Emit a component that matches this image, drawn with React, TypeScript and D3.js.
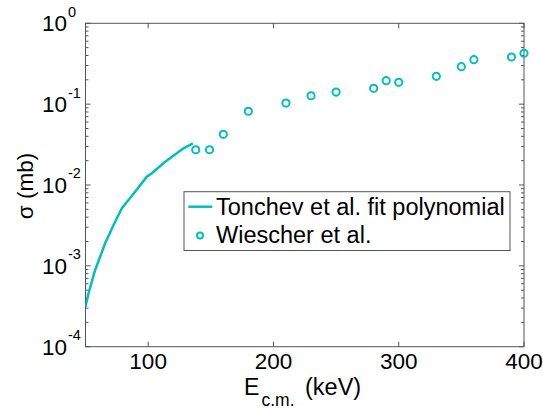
import React from "react";
import * as d3 from "d3";

const fitEnergy = [50, 52.4, 57.7, 65.7, 72.4, 79.0, 89.6, 99.0, 103, 113.6, 128.3, 135.7];
const fitSigma = [3.13e-4, 4.57e-4, 8.9e-4, 1.9e-3, 3.2e-3, 5.15e-3, 8.26e-3, 1.27e-2, 1.4e-2, 1.94e-2, 2.84e-2, 3.28e-2];

const wieEnergy = [138, 149, 160, 180, 210, 230, 250, 280, 290, 300, 330, 350, 360, 390, 400];
const wieSigma = [0.0273, 0.0273, 0.0424, 0.0817, 0.103, 0.127, 0.141, 0.157, 0.195, 0.186, 0.221, 0.291, 0.355, 0.383, 0.426];

const xTicks = [100, 200, 300, 400];
const yDecades = [-4, -3, -2, -1, 0];
const legendLabels = ["Tonchev et al. fit polynomial", "Wiescher et al."];

const W = 543, H = 408;
const L = 85.5, R = 524, T = 23.3, B = 346.7;
const COLOR = "#00BFBF";
const AX = "#555";
const FONT = "Arial, 'Liberation Sans', Helvetica, sans-serif";

export default function App() {
  const x = d3.scaleLinear().domain([50, 400]).range([L, R]);
  const y = d3.scaleLog().domain([1e-4, 1]).range([B, T]);

  const line = d3
    .line<number>()
    .x((_, i) => x(fitEnergy[i]))
    .y((d) => y(d));

  const minor: number[] = [];
  for (let e = -4; e < 0; e++) {
    for (let k = 2; k <= 9; k++) minor.push(k * Math.pow(10, e));
  }

  return (
    <svg width={W} height={H} style={{ position: "absolute", left: 0, top: 0, background: "#fff" }} fontFamily={FONT}>
      <rect x={0} y={0} width={W} height={H} fill="#fff" />
      <defs>
        <clipPath id="plot">
          <rect x={L} y={T} width={R - L} height={B - T} />
        </clipPath>
      </defs>
      <rect x={L} y={T} width={R - L} height={B - T} fill="none" stroke={AX} strokeWidth={1} />
      {xTicks.map((t) => (
        <g key={"xt" + t}>
          <line x1={x(t)} x2={x(t)} y1={B} y2={B - 5} stroke={AX} />
          <line x1={x(t)} x2={x(t)} y1={T} y2={T + 5} stroke={AX} />
          <text x={x(t)} y={369.3} textAnchor="middle" fontSize={22.5} fill="#000">
            {t}
          </text>
        </g>
      ))}
      {yDecades.map((e) => {
        const yy = y(Math.pow(10, e));
        return (
          <g key={"yt" + e}>
            <line x1={L} x2={L + 5} y1={yy} y2={yy} stroke={AX} />
            <line x1={R} x2={R - 5} y1={yy} y2={yy} stroke={AX} />
            <text x={67} y={yy + 8} textAnchor="end" fontSize={22.5} fill="#000">
              10
            </text>
            <text x={68} y={yy - 6.6} textAnchor="start" fontSize={14.5} fill="#000">
              {e}
            </text>
          </g>
        );
      })}
      {minor.map((v, i) => (
        <g key={"mn" + i}>
          <line x1={L} x2={L + 3} y1={y(v)} y2={y(v)} stroke={AX} />
          <line x1={R} x2={R - 3} y1={y(v)} y2={y(v)} stroke={AX} />
        </g>
      ))}
      <g clipPath="url(#plot)">
        <path d={line(fitSigma) || ""} fill="none" stroke={COLOR} strokeWidth={2.5} strokeLinejoin="round" />
      </g>
      {wieEnergy.map((e, i) => (
        <circle key={"w" + i} cx={x(e)} cy={y(wieSigma[i])} r={3.6} fill="none" stroke={COLOR} strokeWidth={2} />
      ))}
      <rect x={184} y={191.7} width={326} height={58.8} fill="#fff" stroke={AX} strokeWidth={1} />
      <line x1={188.3} x2={212.3} y1={206.7} y2={206.7} stroke={COLOR} strokeWidth={2.5} />
      <text x={216} y={215} fontSize={23.5} fill="#000">
        {legendLabels[0]}
      </text>
      <circle cx={200} cy={235.5} r={3} fill="none" stroke={COLOR} strokeWidth={2} />
      <text x={216} y={243.3} fontSize={23.5} fill="#000">
        {legendLabels[1]}
      </text>
      <text x={244} y={394.5} fontSize={23} fill="#000">
        E
      </text>
      <text x={261.5} y={405.5} fontSize={17.5} fill="#000">
        c.m.
      </text>
      <text x={305} y={394.5} fontSize={23.5} fill="#000">
        (keV)
      </text>
      <text transform="translate(33,186) rotate(-90)" textAnchor="middle" fontSize={22.5} fill="#000">
        σ (mb)
      </text>
    </svg>
  );
}
